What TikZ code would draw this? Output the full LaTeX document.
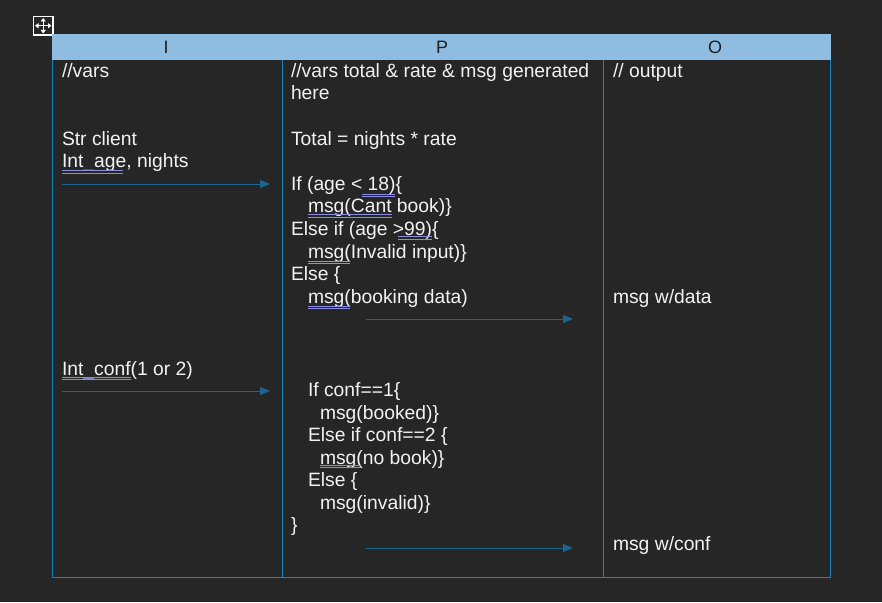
\documentclass[tikz,border=0pt]{standalone}
\usepackage{fontspec}
\setmainfont{Liberation Sans}
\usetikzlibrary{arrows.meta}
\definecolor{bgc}{HTML}{262626}
\definecolor{hdrc}{HTML}{8FBDE2}
\definecolor{gridc}{HTML}{1A84BC}
\definecolor{arrc}{HTML}{1A6690}
\definecolor{ulc}{HTML}{8A8DE2}
\definecolor{txtc}{HTML}{F2F2F2}
\definecolor{hdrtxt}{HTML}{1E1E1E}
\tikzset{
  txt/.style={anchor=base west, inner sep=0pt, outer sep=0pt, text=txtc, font=\fontsize{19.3}{22.6}\selectfont},
  hdr/.style={anchor=base, inner sep=0pt, text=hdrtxt, font=\fontsize{18}{20}\selectfont},
  gridline/.style={draw=gridc, line width=1pt},
  flow/.style={draw=arrc, line width=1pt, -{Triangle[length=10pt,width=8pt]}},
  squig/.style={draw=ulc, line width=0.9pt},
  icon/.style={draw=white, line width=1.2pt},
  iconarrow/.style={white, line width=1.2pt, {Triangle[length=3.5pt,width=5pt]}-{Triangle[length=3.5pt,width=5pt]}},
}
\newcommand{\dul}[3]{% x1, x2, y (upper line)
  \draw[squig] (#1,#3) -- (#2,#3);
  \draw[squig] (#1,#3+2.6) -- (#2,#3+2.6);}
\newcommand{\usc}{\textcolor{ulc}{\_}}
\begin{document}
\begin{tikzpicture}[x=1pt,y=-1pt]
\useasboundingbox (0,0) rectangle (882,602);
\fill[bgc] (0,0) rectangle (882,602);
% move icon
\draw[icon] (33.5,16.5) rectangle (53,35);
\draw[iconarrow] (43.2,18) -- (43.2,33.5);
\draw[iconarrow] (35,25.7) -- (51.5,25.7);
% header
\fill[hdrc] (52,34) rectangle (831,60);
\node[hdr] (hI) at (166,53) {I};
\node[hdr] (hP) at (442,53) {P};
\node[hdr] (hO) at (715,53) {O};
% grid
\draw[gridline] (52.5,60) -- (52.5,577.5) -- (830.5,577.5) -- (830.5,60);
\draw[gridline] (282.5,60) -- (282.5,577.5);
\draw[gridline] (603.5,60) -- (603.5,577.5);
% column I
\node[txt] (i1) at (62,77) {//vars};
\node[txt] (i2) at (62,145) {Str client};
\node[txt] (i3) at (62,167.6) {Int\usc age, nights};
\node[txt] (i4) at (62,375) {Int\usc conf(1 or 2)};
% column P
\node[txt] (p1) at (291,77) {//vars total \& rate \& msg generated};
\node[txt] (p2) at (291,99.6) {here};
\node[txt] (p3) at (291,145) {Total = nights * rate};
\node[txt] (p4) at (291,190.2) {If (age < 18)\{};
\node[txt] (p5) at (308,212.8) {msg(Cant book)\}};
\node[txt] (p6) at (291,235.4) {Else if (age >99)\{};
\node[txt] (p7) at (308,258) {msg(Invalid input)\}};
\node[txt] (p8) at (291,280.6) {Else \{};
\node[txt] (p9) at (308,303.2) {msg(booking data)};
\node[txt] (c1) at (308,396.7) {If conf==1\{};
\node[txt] (c2) at (320,419.2) {msg(booked)\}};
\node[txt] (c3) at (308,441.7) {Else if conf==2 \{};
\node[txt] (c4) at (320,464.2) {msg(no book)\}};
\node[txt] (c5) at (308,486.7) {Else \{};
\node[txt] (c6) at (320,509.2) {msg(invalid)\}};
\node[txt] (c7) at (291,531.7) {\}};
% column O
\node[txt] (o1) at (613,77) {// output};
\node[txt] (o2) at (613,303.2) {msg w/data};
\node[txt] (o3) at (613,550) {msg w/conf};
% spell-check double underlines
\dul{62}{123}{170.6}
\dul{362}{395}{194}
\dul{308}{392}{214.5}
\dul{398}{432}{236.5}
\dul{308}{350}{261}
\dul{308}{350}{306}
\dul{62}{131}{377}
\dul{320}{361}{465}
% arrows
\coordinate (a1s) at (62,184);
\coordinate (a1e) at (270,184);
\coordinate (a2s) at (366,319);
\coordinate (a2e) at (573,319);
\coordinate (a3s) at (62,391);
\coordinate (a3e) at (270,391);
\coordinate (a4s) at (366,548);
\coordinate (a4e) at (573,548);
\draw[flow] (a1s) -- (a1e);
\draw[flow] (a2s) -- (a2e);
\draw[flow] (a3s) -- (a3e);
\draw[flow] (a4s) -- (a4e);
\end{tikzpicture}
\end{document}
